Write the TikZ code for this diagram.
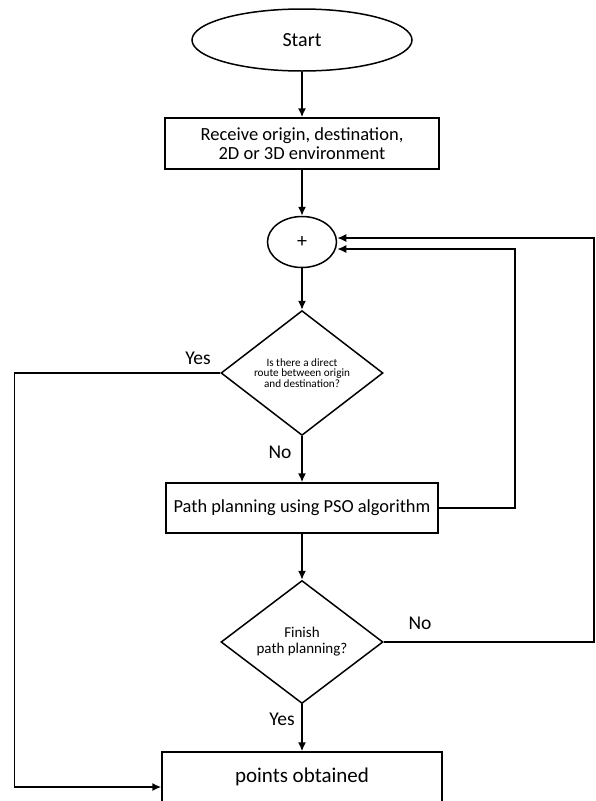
\documentclass[tikz,border=0pt]{standalone}
\usepackage{fontspec}
\setmainfont{Carlito}
\usetikzlibrary{shapes.geometric,arrows.meta}
\begin{document}
\begin{tikzpicture}[x=1pt,y=-1pt,line width=1.5pt,>={Latex[length=9pt,width=8pt]},
    box/.style={draw,rectangle,align=center,inner sep=2pt},
    decision/.style={draw,diamond,align=center,inner sep=0pt,minimum width=162pt,minimum height=123pt},
    lbl/.style={font=\fontsize{19.5}{20}\selectfont}]
    \clip (0,0) rectangle (595,801);
    \node[draw,ellipse,minimum width=220pt,minimum height=62pt,font=\fontsize{20}{20}\selectfont] (start) at (302,40) {Start};
    \node[box,minimum width=274pt,minimum height=51pt,font=\fontsize{18.5}{18.5}\selectfont] (recv) at (302,143.5) {Receive origin, destination,\\ 2D or 3D environment};
    \node[draw,ellipse,minimum width=69pt,minimum height=51pt,inner sep=0pt,font=\fontsize{20}{20}\selectfont] (sum) at (302,242) {+};
    \node[decision,font=\fontsize{11.2}{10.5}\selectfont] (direct) at (302,373) {Is there a direct\\route between origin\\and destination?};
    \node[box,minimum width=272pt,minimum height=50pt,font=\fontsize{18.4}{19}\selectfont] (pso) at (302,508) {Path planning using PSO algorithm};
    \node[decision,font=\fontsize{15}{16}\selectfont] (finish) at (302,642) {Finish\\path planning?};
    \node[box,minimum width=280pt,minimum height=50pt,font=\fontsize{21}{22}\selectfont] (result) at (302,777) {points obtained};

    % main flow
    \draw[->] (start) -- (recv);
    \draw[->] (recv) -- (sum);
    \draw[->] (sum) -- (direct);
    \draw[->] (direct) -- (pso);
    \draw[->] (pso) -- (finish);
    \draw[->] (finish) -- (result);

    % branches and loops
    \draw[->] (direct.west) -- ++(-206,0) |- ([yshift=-10pt]result.west);
    \draw[->] (pso.east) -- ++(76,0) |- ([yshift=-7pt]sum.east);
    \draw[->] (finish.east) -- ++(210,0) |- ([yshift=4pt]sum.east);

    \node[lbl] (yes1) at (198,358) {Yes};
    \node[lbl] (no1) at (280,452) {No};
    \node[lbl] (no2) at (420,623) {No};
    \node[lbl] (yes2) at (282,719) {Yes};
\end{tikzpicture}
\end{document}
